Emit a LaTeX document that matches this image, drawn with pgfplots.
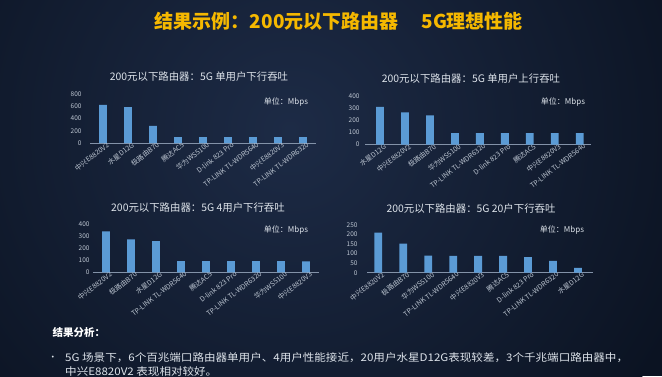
\documentclass[border=0pt]{standalone}
\usepackage{pgfplots}
\pgfplotsset{compat=1.18}
\usepackage{fontspec}
\setmainfont{Noto Sans CJK SC}
\definecolor{bgA}{HTML}{0B1322}
\definecolor{bgB}{HTML}{1D2B46}
\definecolor{barc}{HTML}{5B9BD5}
\definecolor{ttl}{HTML}{F5B800}
\definecolor{lbl}{HTML}{BCC5D1}
\definecolor{txt}{HTML}{DDE3EA}
\definecolor{axl}{HTML}{8392A8}
\pgfplotsset{
  sub/.style={
    scale only axis, width=226pt,
    axis x line*=bottom, axis y line*=left,
    y axis line style={draw=none},
    x axis line style={draw=axl, line width=0.8pt},
    major tick length=0pt,
    ymin=0, xmin=-0.52, xmax=8.52,
    xtick={0,...,8},
    ybar, bar width=7.8pt,
    /pgf/number format/assume math mode=true,
    yticklabel style={font=\fontsize{6.5}{7}\selectfont, text=lbl},
    xticklabel style={font=\fontsize{6.9}{7.5}\selectfont, text=lbl, rotate=38, anchor=north east, inner sep=0.6pt, xshift=4pt},
    clip=false,
  },
}
\tikzset{
  subt/.style={font=\fontsize{10.4}{12}\selectfont, text=txt},
  unit/.style={font=\fontsize{8}{9}\selectfont, text=txt},
  body/.style={font=\fontsize{10.5}{12}\selectfont, text=txt, inner sep=0pt, anchor=west, xscale=1.1, transform shape},
}
\begin{document}
\begin{tikzpicture}
\fill[bgA] (0pt,0pt) rectangle (662pt,-376pt);
\shade[inner color=bgB, outer color=bgA] (290pt,-130pt) circle (430pt);

\node[font=\fontsize{19}{22}\selectfont\bfseries, text=ttl] at (339pt,-21pt) {结果示例：200元以下路由器\hspace{1.2em}5G理想性能};

% chart 1
\node[subt] at (199pt,-77pt) {200元以下路由器：5G 单用户下行吞吐};
\node[unit] at (286pt,-102pt) {单位：Mbps};
\begin{axis}[sub, at={(90pt,-143pt)}, anchor=south west, height=49pt,
  ymax=800, ytick={0,200,...,800},
  yticklabel style={xshift=-5pt},
  xticklabels={中兴E8820V2,水星D12G,极路由B70,腾达AC5,华为WS5100,D-link 823 Pro,TP-LINK TL-WDR5640,中兴E8820V3,TP-LINK TL-WDR6320}]
\addplot[fill=barc, draw=none] coordinates {(0,624) (1,586) (2,279) (3,97) (4,97) (5,97) (6,97) (7,96) (8,96)};
\end{axis}

% chart 2
\node[subt] at (471pt,-79pt) {200元以下路由器：5G 单用户上行吞吐};
\node[unit] at (563pt,-102pt) {单位：Mbps};
\begin{axis}[sub, at={(365pt,-144.5pt)}, anchor=south west, height=48.5pt,
  xmin=-0.6, xmax=8.45,
  ymax=400, ytick={0,100,...,400},
  yticklabel style={xshift=-2pt},
  xticklabels={水星D12G,中兴E8820V2,极路由B70,华为WS5100,TP-LINK TL-WDR6320,D-link 823 Pro,腾达AC5,中兴E8820V3,TP-LINK TL-WDR5640}]
\addplot[fill=barc, draw=none] coordinates {(0,311) (1,265) (2,240) (3,93) (4,93) (5,93) (6,93) (7,93) (8,93)};
\end{axis}

% chart 3
\node[subt] at (198pt,-208pt) {200元以下路由器：5G 4用户下行吞吐};
\node[unit] at (286pt,-230pt) {单位：Mbps};
\begin{axis}[sub, at={(93pt,-272.3pt)}, anchor=south west, height=48.3pt,
  ymax=400, ytick={0,100,...,400},
  yticklabel style={xshift=0pt},
  xticklabels={中兴E8820V2,极路由B70,水星D12G,TP-LINK TL-WDR5640,腾达AC5,D-link 823 Pro,TP-LINK TL-WDR6320,华为WS5100,中兴E8820V3}]
\addplot[fill=barc, draw=none] coordinates {(0,340) (1,273) (2,259) (3,93) (4,93) (5,93) (6,93) (7,93) (8,90)};
\end{axis}

% chart 4
\node[subt] at (471pt,-209pt) {200元以下路由器：5G 20户下行吞吐};
\node[unit] at (562pt,-230pt) {单位：Mbps};
\begin{axis}[sub, at={(367pt,-272.7pt)}, anchor=south west, height=47.7pt,
  xmin=-0.45, xmax=8.6,
  ymax=250, ytick={0,50,...,250},
  yticklabel style={xshift=-6pt},
  xticklabels={中兴E8820V2,极路由B70,华为WS5100,TP-LINK TL-WDR5640,中兴E8820V3,腾达AC5,D-link 823 Pro,TP-LINK TL-WDR6320,水星D12G}]
\addplot[fill=barc, draw=none] coordinates {(0,210) (1,152) (2,90) (3,88) (4,88) (5,88) (6,82) (7,62) (8,25)};
\end{axis}

% analysis text
\node[anchor=west, font=\fontsize{10.5}{12}\selectfont\bfseries, text=white] at (49pt,-332pt) {结果分析：};
\node[font=\fontsize{9}{10}\selectfont, text=txt] at (53pt,-358pt) {•};
\node[body] at (65pt,-358pt) {5G 场景下，6个百兆端口路由器单用户、4用户性能接近，20用户水星D12G表现较差，3个千兆端口路由器中，};
\node[body] at (65pt,-371pt) {中兴E8820V2 表现相对较好。};

\pgfresetboundingbox
\useasboundingbox (0pt,0pt) rectangle (662pt,-376pt);
\end{tikzpicture}
\end{document}
